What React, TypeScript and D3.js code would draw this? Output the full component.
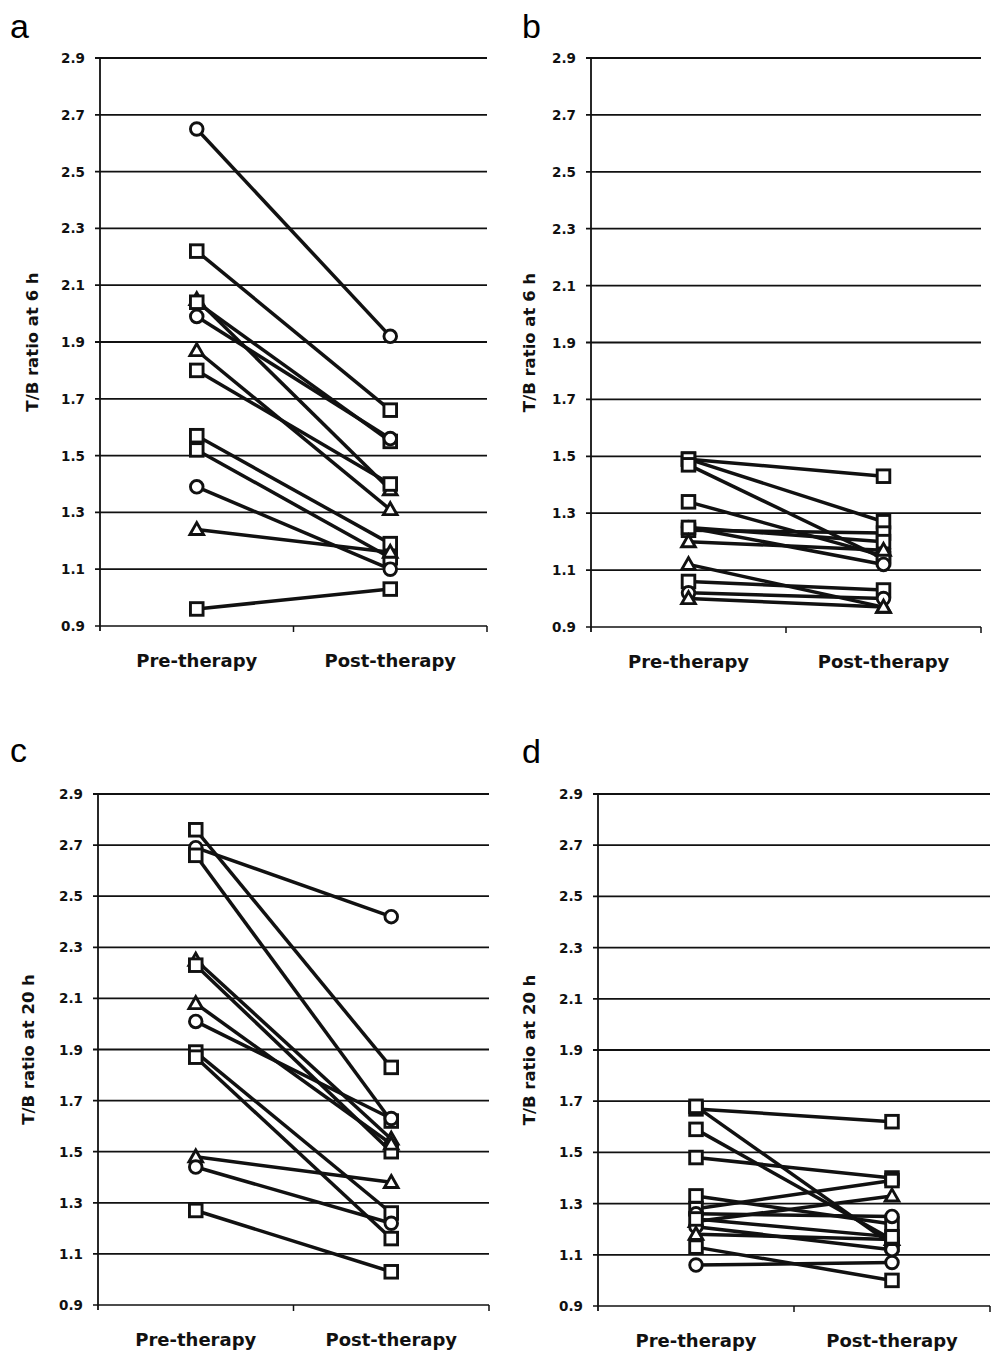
import React from 'react';
import * as d3 from 'd3';

type Shape = 'circle' | 'square' | 'triangle';

const categories = ['Pre-therapy', 'Post-therapy'];
const yTicks = [0.9, 1.1, 1.3, 1.5, 1.7, 1.9, 2.1, 2.3, 2.5, 2.7, 2.9];

// panel a: T/B ratio at 6 h, group 1
const shapesA: Shape[] = ['circle', 'square', 'triangle', 'square', 'circle', 'triangle', 'square', 'square', 'square', 'circle', 'triangle', 'square'];
const preA = [2.65, 2.22, 2.05, 2.04, 1.99, 1.87, 1.80, 1.57, 1.52, 1.39, 1.24, 0.96];
const postA = [1.92, 1.66, 1.38, 1.55, 1.56, 1.31, 1.40, 1.19, 1.14, 1.10, 1.16, 1.03];

// panel b: T/B ratio at 6 h, group 2
const shapesB: Shape[] = ['square', 'square', 'square', 'square', 'circle', 'square', 'square', 'triangle', 'triangle', 'square', 'circle', 'triangle'];
const preB = [1.49, 1.49, 1.47, 1.34, 1.25, 1.24, 1.25, 1.20, 1.12, 1.06, 1.02, 1.00];
const postB = [1.43, 1.27, 1.14, 1.15, 1.12, 1.23, 1.20, 1.17, 0.97, 1.03, 1.00, 0.97];

// panel c: T/B ratio at 20 h, group 1
const shapesC: Shape[] = ['square', 'circle', 'square', 'triangle', 'square', 'triangle', 'circle', 'square', 'square', 'triangle', 'circle', 'square'];
const preC = [2.76, 2.69, 2.66, 2.25, 2.23, 2.08, 2.01, 1.89, 1.87, 1.48, 1.44, 1.27];
const postC = [1.83, 2.42, 1.62, 1.55, 1.50, 1.53, 1.63, 1.26, 1.16, 1.38, 1.22, 1.03];

// panel d: T/B ratio at 20 h, group 2
const shapesD: Shape[] = ['square', 'square', 'square', 'square', 'square', 'triangle', 'square', 'circle', 'circle', 'triangle', 'square', 'circle', 'square'];
const preD = [1.67, 1.68, 1.59, 1.48, 1.28, 1.23, 1.33, 1.26, 1.21, 1.18, 1.13, 1.06, 1.24];
const postD = [1.62, 1.14, 1.16, 1.40, 1.39, 1.33, 1.22, 1.25, 1.12, 1.16, 1.00, 1.07, 1.17];

interface PanelProps {
  letter: string;
  title: string;
  shapes: Shape[];
  pre: number[];
  post: number[];
  x0: number;
  x1: number;
  top: number;
  bottom: number;
  titleX: number;
  letterX: number;
  letterY: number;
}

const Marker: React.FC<{ shape: Shape; cx: number; cy: number }> = ({ shape, cx, cy }) => {
  const common = { fill: '#fff', stroke: '#111', strokeWidth: 2.9 };
  if (shape === 'circle') return <circle cx={cx} cy={cy} r={6.3} {...common} />;
  if (shape === 'square') return <rect x={cx - 6.3} y={cy - 6.3} width={12.6} height={12.6} {...common} />;
  const s = 6.8;
  return <path d={`M${cx},${cy - s}L${cx + s},${cy + s * 0.75}L${cx - s},${cy + s * 0.75}Z`} {...common} strokeLinejoin="miter" />;
};

const Panel: React.FC<PanelProps> = (p) => {
  const x = d3.scaleBand().domain(categories).range([p.x0, p.x1]);
  const y = d3.scaleLinear().domain([0.9, 2.9]).range([p.bottom, p.top]);
  const cx = (c: string) => (x(c) || 0) + x.bandwidth() / 2;
  const midY = (p.top + p.bottom) / 2;
  return (
    <g>
      <text x={p.letterX} y={p.letterY} fontFamily="Liberation Sans, Arial, sans-serif" fontSize={34}>{p.letter}</text>
      {yTicks.map((t) => (
        <g key={t}>
          <line x1={p.x0 - 5} x2={p.x1} y1={y(t)} y2={y(t)} stroke="#111" strokeWidth={t === 0.9 ? 1.5 : 1.8} />
          <text x={p.x0 - 15} y={y(t) + 5} textAnchor="end" fontFamily="DejaVu Sans, sans-serif" fontWeight="bold" fontSize={13.5} fill="#111">{t.toFixed(1)}</text>
        </g>
      ))}
      <line x1={p.x0} x2={p.x0} y1={p.top} y2={p.bottom + 5} stroke="#111" strokeWidth={1.8} />
      {[p.x0 + x.bandwidth(), p.x1].map((tx) => (
        <line key={tx} x1={tx} x2={tx} y1={p.bottom} y2={p.bottom + 6} stroke="#111" strokeWidth={1.5} />
      ))}
      {categories.map((c) => (
        <text key={c} x={cx(c)} y={p.bottom + 41} textAnchor="middle" fontFamily="DejaVu Sans, sans-serif" fontWeight="bold" fontSize={18} fill="#111">{c}</text>
      ))}
      <text transform={`translate(${p.titleX},${midY}) rotate(-90)`} textAnchor="middle" fontFamily="DejaVu Sans, sans-serif" fontWeight="bold" fontSize={16.5} fill="#111">{p.title}</text>
      {p.pre.map((v, i) => (
        <g key={i}>
          <line x1={cx(categories[0])} y1={y(v)} x2={cx(categories[1])} y2={y(p.post[i])} stroke="#111" strokeWidth={3.5} />
          <Marker shape={p.shapes[i]} cx={cx(categories[0])} cy={y(v)} />
          <Marker shape={p.shapes[i]} cx={cx(categories[1])} cy={y(p.post[i])} />
        </g>
      ))}
    </g>
  );
};

export default function App() {
  return (
    <svg width={993} height={1353} style={{ display: 'block', position: 'absolute', left: 0, top: 0, background: '#fff' }}>
      <rect width={993} height={1353} fill="#fff" />
      <Panel letter="a" title="T/B ratio at 6 h" shapes={shapesA} pre={preA} post={postA}
        x0={100} x1={487} top={58} bottom={626} titleX={38} letterX={10} letterY={38} />
      <Panel letter="b" title="T/B ratio at 6 h" shapes={shapesB} pre={preB} post={postB}
        x0={591} x1={981} top={58} bottom={627} titleX={535} letterX={522} letterY={38} />
      <Panel letter="c" title="T/B ratio at 20 h" shapes={shapesC} pre={preC} post={postC}
        x0={98} x1={489} top={794} bottom={1305} titleX={34} letterX={10} letterY={762} />
      <Panel letter="d" title="T/B ratio at 20 h" shapes={shapesD} pre={preD} post={postD}
        x0={598} x1={990} top={794} bottom={1306} titleX={535} letterX={522} letterY={763} />
    </svg>
  );
}
